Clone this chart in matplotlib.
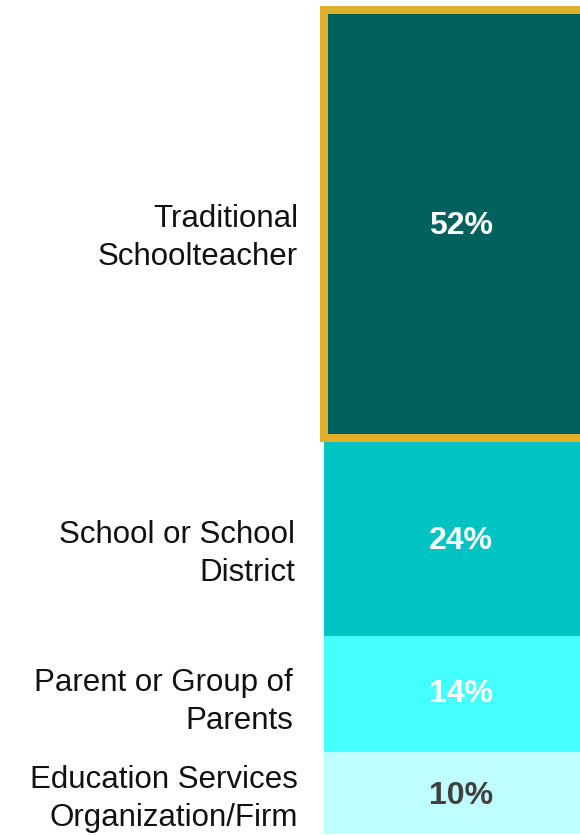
import matplotlib
matplotlib.use("Agg")
import matplotlib.pyplot as plt

categories = ["Traditional\nSchoolteacher", "School or School\nDistrict",
              "Parent or Group of\nParents", "Education Services\nOrganization/Firm"]
values = [52, 24, 14, 10]
value_labels = ["52%", "24%", "14%", "10%"]
colors = ["#01615E", "#00C3C3", "#45FFFF", "#BFFFFF"]
text_colors = ["white", "white", "white", "#404040"]

W, H = 580, 835
fig = plt.figure(figsize=(W / 100, H / 100), dpi=100)
plt.rcParams['font.family'] = ['Liberation Sans', 'DejaVu Sans']

# axes covering the bar: left at x=324px, top at 9.5px, bottom at 834px, right beyond figure
left_px, right_px, top_px, bot_px = 324, 598, 9.5, 834
ax = fig.add_axes([left_px / W, (H - bot_px) / H, (right_px - left_px) / W, (bot_px - top_px) / H])
ax.set_xlim(0, 1)
ax.set_ylim(sum(values), 0)
ax.axis("off")

bottoms = []
acc = 0
for v in values:
    bottoms.append(acc)
    acc += v

ax.bar([0] * len(values), values, bottom=bottoms, width=1, align="edge",
       color=colors, edgecolor="none", linewidth=0)

# gold highlight border around the first segment
border = ax.bar([0], [values[0]], bottom=[bottoms[0]], width=1, align="edge",
                fill=False, edgecolor="#E1AF29", linewidth=8 * 72 / 100,
                clip_on=False, zorder=3)
for p in border:
    p.set_joinstyle("miter")
    p.set_capstyle("projecting")

label_offsets = [-14, -17, -8, -6]  # px (downward)
label_x = [-26, -29, -31, -26]
val_offsets = [-2, -4, 0, -3]
for i, (cat, v, b) in enumerate(zip(categories, values, bottoms)):
    yc = b + v / 2
    ax.annotate(cat, xy=(0, yc), xycoords="data",
                xytext=(label_x[i] * 0.72, label_offsets[i] * 0.72), textcoords="offset points",
                ha="right", va="center", fontsize=22.5, color="#111111",
                linespacing=1.33, annotation_clip=False)
    ax.annotate(value_labels[i], xy=(0.5, yc), xycoords="data",
                xytext=(0, val_offsets[i] * 0.72), textcoords="offset points",
                ha="center", va="center", fontsize=23, fontweight="bold",
                color=text_colors[i], annotation_clip=False, zorder=4)

fig.savefig("out.png", dpi=100, facecolor="white")
